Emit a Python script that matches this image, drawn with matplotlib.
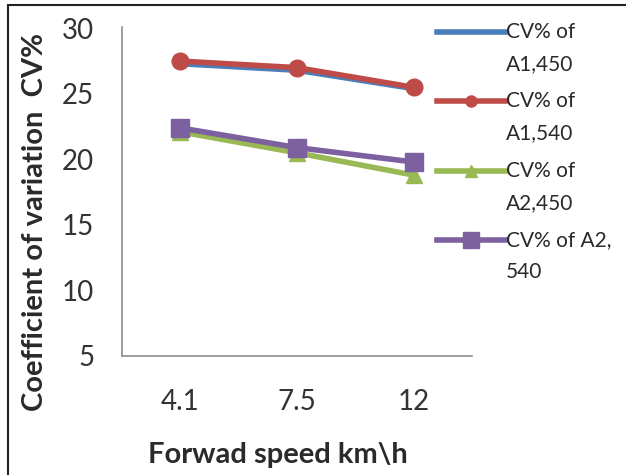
import matplotlib
matplotlib.use("Agg")
import matplotlib.pyplot as plt
from matplotlib.patches import Rectangle
from matplotlib.lines import Line2D

plt.rcParams['font.family'] = ['Lato', 'DejaVu Sans']

categories = ["4.1", "7.5", "12"]
series_labels = [("CV% of", "A1,450"), ("CV% of", "A1,540"), ("CV% of", "A2,450"), ("CV% of A2,", "540")]
a1_450 = [27.3, 26.8, 25.4]
a1_540 = [27.5, 27.0, 25.5]
a2_450 = [22.1, 20.5, 18.8]
a2_540 = [22.4, 20.9, 19.8]
yticks = [5, 10, 15, 20, 25, 30]

colors = ['#4A7EBB', '#BE4B48', '#98B954', '#7D60A0']
markers = [None, 'o', '^', 's']
plot_ms = [0, 12, 12, 13]
leg_ms = [0, 8, 9, 11]
series = [a1_450, a1_540, a2_450, a2_540]
zorders = [2, 3, 2, 3]

W, H = 626, 475
fig = plt.figure(figsize=(W/100, H/100), dpi=100)
ax = fig.add_axes([122/W, 1-356/H, 350/W, 329/H])

x = list(range(len(categories)))
for vals, c, m, ms, z in zip(series, colors, markers, plot_ms, zorders):
    ax.plot(x, vals, color=c, lw=4, marker=m, ms=ms, zorder=z)

ax.set_xlim(-0.5, 2.5)
ax.set_ylim(5, 30.1)
ax.set_xticks(x)
ax.set_xticklabels(categories)
ax.set_yticks(yticks)
for s in ['top', 'right']:
    ax.spines[s].set_visible(False)
for s in ['left', 'bottom']:
    ax.spines[s].set_color('#8c8c8c')
    ax.spines[s].set_linewidth(1.2)
ax.tick_params(axis='both', length=0, labelsize=20, colors='#333333')
ax.tick_params(axis='x', pad=24)
ax.tick_params(axis='y', pad=20)

fig.text(278/W, 1-455/H, "Forwad speed km\\h", fontsize=21, fontweight='bold',
         color='#2a2a2a', ha='center', va='center')
fig.text(35/W, 1-222/H, "Coefficient of variation  CV%", fontsize=21, fontweight='bold',
         color='#2a2a2a', ha='center', va='center', rotation=90)

# legend drawn manually (Excel style: handle aligned with first text line)
for i, (lab, c, m, ms) in enumerate(zip(series_labels, colors, markers, leg_ms)):
    yc = 1 - (32 + 69.3*i)/H
    fig.add_artist(Line2D([437/W, 505/W], [yc, yc], transform=fig.transFigure,
                          color=c, lw=4))
    if m is not None:
        fig.add_artist(Line2D([471/W], [yc], transform=fig.transFigure, color=c,
                              marker=m, ms=ms, lw=0))
    fig.text(506/W, yc, lab[0], fontsize=15, color='#2a2a2a', ha='left', va='center')
    fig.text(506/W, yc - 32/H, lab[1], fontsize=15, color='#2a2a2a', ha='left', va='center')

fig.patches.append(Rectangle((8/W, -0.02), 1.0, 1 - 5/H + 0.02, transform=fig.transFigure,
                             fill=False, edgecolor='#222222', lw=1.5))

fig.savefig("out.png", dpi=100)
